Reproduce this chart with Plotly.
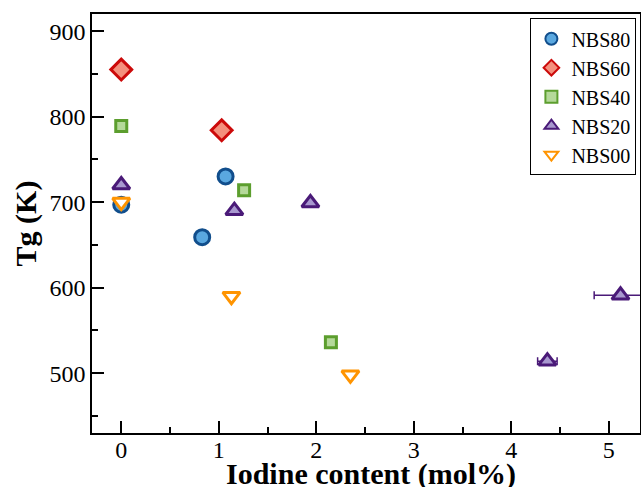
import plotly.graph_objects as go

series_names = ["NBS80", "NBS60", "NBS40", "NBS20", "NBS00"]
x_nbs80 = [0.0, 0.83, 1.07]
y_nbs80 = [697, 659, 730]
x_nbs60 = [0.0, 1.03]
y_nbs60 = [855, 784]
x_nbs40 = [0.0, 1.26, 2.15]
y_nbs40 = [789, 714, 536]
x_nbs20 = [0.0, 1.16, 1.94, 4.37, 5.12]
y_nbs20 = [720, 690, 699, 514, 591]
xerr_nbs20 = [0, 0, 0, 0.1, 0.27]
x_nbs00 = [0.0, 1.13, 2.35]
y_nbs00 = [700, 590, 498]
x_title = "Iodine content (mol%)"
y_title = "Tg (K)"

styles = {
    "NBS80": dict(symbol="circle", fill="#5aa8e0", line="#114e8c", size=15),
    "NBS60": dict(symbol="diamond", fill="#f4907d", line="#cc0a0a", size=16),
    "NBS40": dict(symbol="square", fill="#b5d99a", line="#5c9e2e", size=11),
    "NBS20": dict(symbol="triangle-up", fill="#a898cf", line="#4a1a78", size=15),
    "NBS00": dict(symbol="triangle-down", fill="#ffffff", line="#ff9400", size=15),
}

data = {
    "NBS80": (x_nbs80, y_nbs80, None),
    "NBS60": (x_nbs60, y_nbs60, None),
    "NBS40": (x_nbs40, y_nbs40, None),
    "NBS20": (x_nbs20, y_nbs20, xerr_nbs20),
    "NBS00": (x_nbs00, y_nbs00, None),
}

fig = go.Figure()
for name in series_names:
    xs, ys, xe = data[name]
    s = styles[name]
    tr = go.Scatter(
        x=xs, y=ys, mode="markers", name=name,
        marker=dict(symbol=s["symbol"], size=s["size"], color=s["fill"],
                    line=dict(color=s["line"], width=3)),
    )
    if xe is not None:
        tr.error_x = dict(type="data", array=xe, visible=True,
                          color=s["line"], thickness=1.5, width=4)
    fig.add_trace(tr)

axis_common = dict(
    showgrid=False, zeroline=False, showline=True, linecolor="black",
    linewidth=1.5, mirror=True, ticks="inside", tickcolor="black",
    ticklen=12, tickwidth=1.5, automargin=False,
    tickfont=dict(family="Liberation Serif", size=24, color="black"),
)

fig.update_xaxes(
    range=[-0.3, 5.32], tickvals=[0, 1, 2, 3, 4, 5],
    minor=dict(ticks="inside", ticklen=6, tickcolor="black", tickwidth=1.5, dtick=0.5, tick0=0),
    ticklabelstandoff=-6,
    **axis_common,
)
fig.update_yaxes(
    range=[430, 920], tickvals=[500, 600, 700, 800, 900],
    minor=dict(ticks="inside", ticklen=6, tickcolor="black", tickwidth=1.5, dtick=50, tick0=0),
    title=dict(text="<b>" + y_title + "</b>",
               font=dict(family="Liberation Serif", size=30, color="black"), standoff=4),
    **axis_common,
)

fig.add_annotation(
    text="<b>" + x_title + "</b>", xref="paper", yref="paper",
    x=0.509, y=0, xanchor="center", yanchor="top", yshift=-22,
    showarrow=False, font=dict(family="Liberation Serif", size=30, color="black"),
)

fig.update_layout(
    width=641, height=487,
    margin=dict(l=92, r=1, t=14, b=54),
    plot_bgcolor="white", paper_bgcolor="white",
    legend=dict(x=0.80, y=0.99, xanchor="left", yanchor="top",
                bordercolor="black", borderwidth=1, bgcolor="white",
                font=dict(family="Liberation Serif", size=20, color="black"),
                itemsizing="constant", tracegroupgap=0),
)

fig.write_html("out.html", config={"displayModeBar": False},
               post_script="document.body.style.margin='0';document.body.style.overflow='hidden';")
